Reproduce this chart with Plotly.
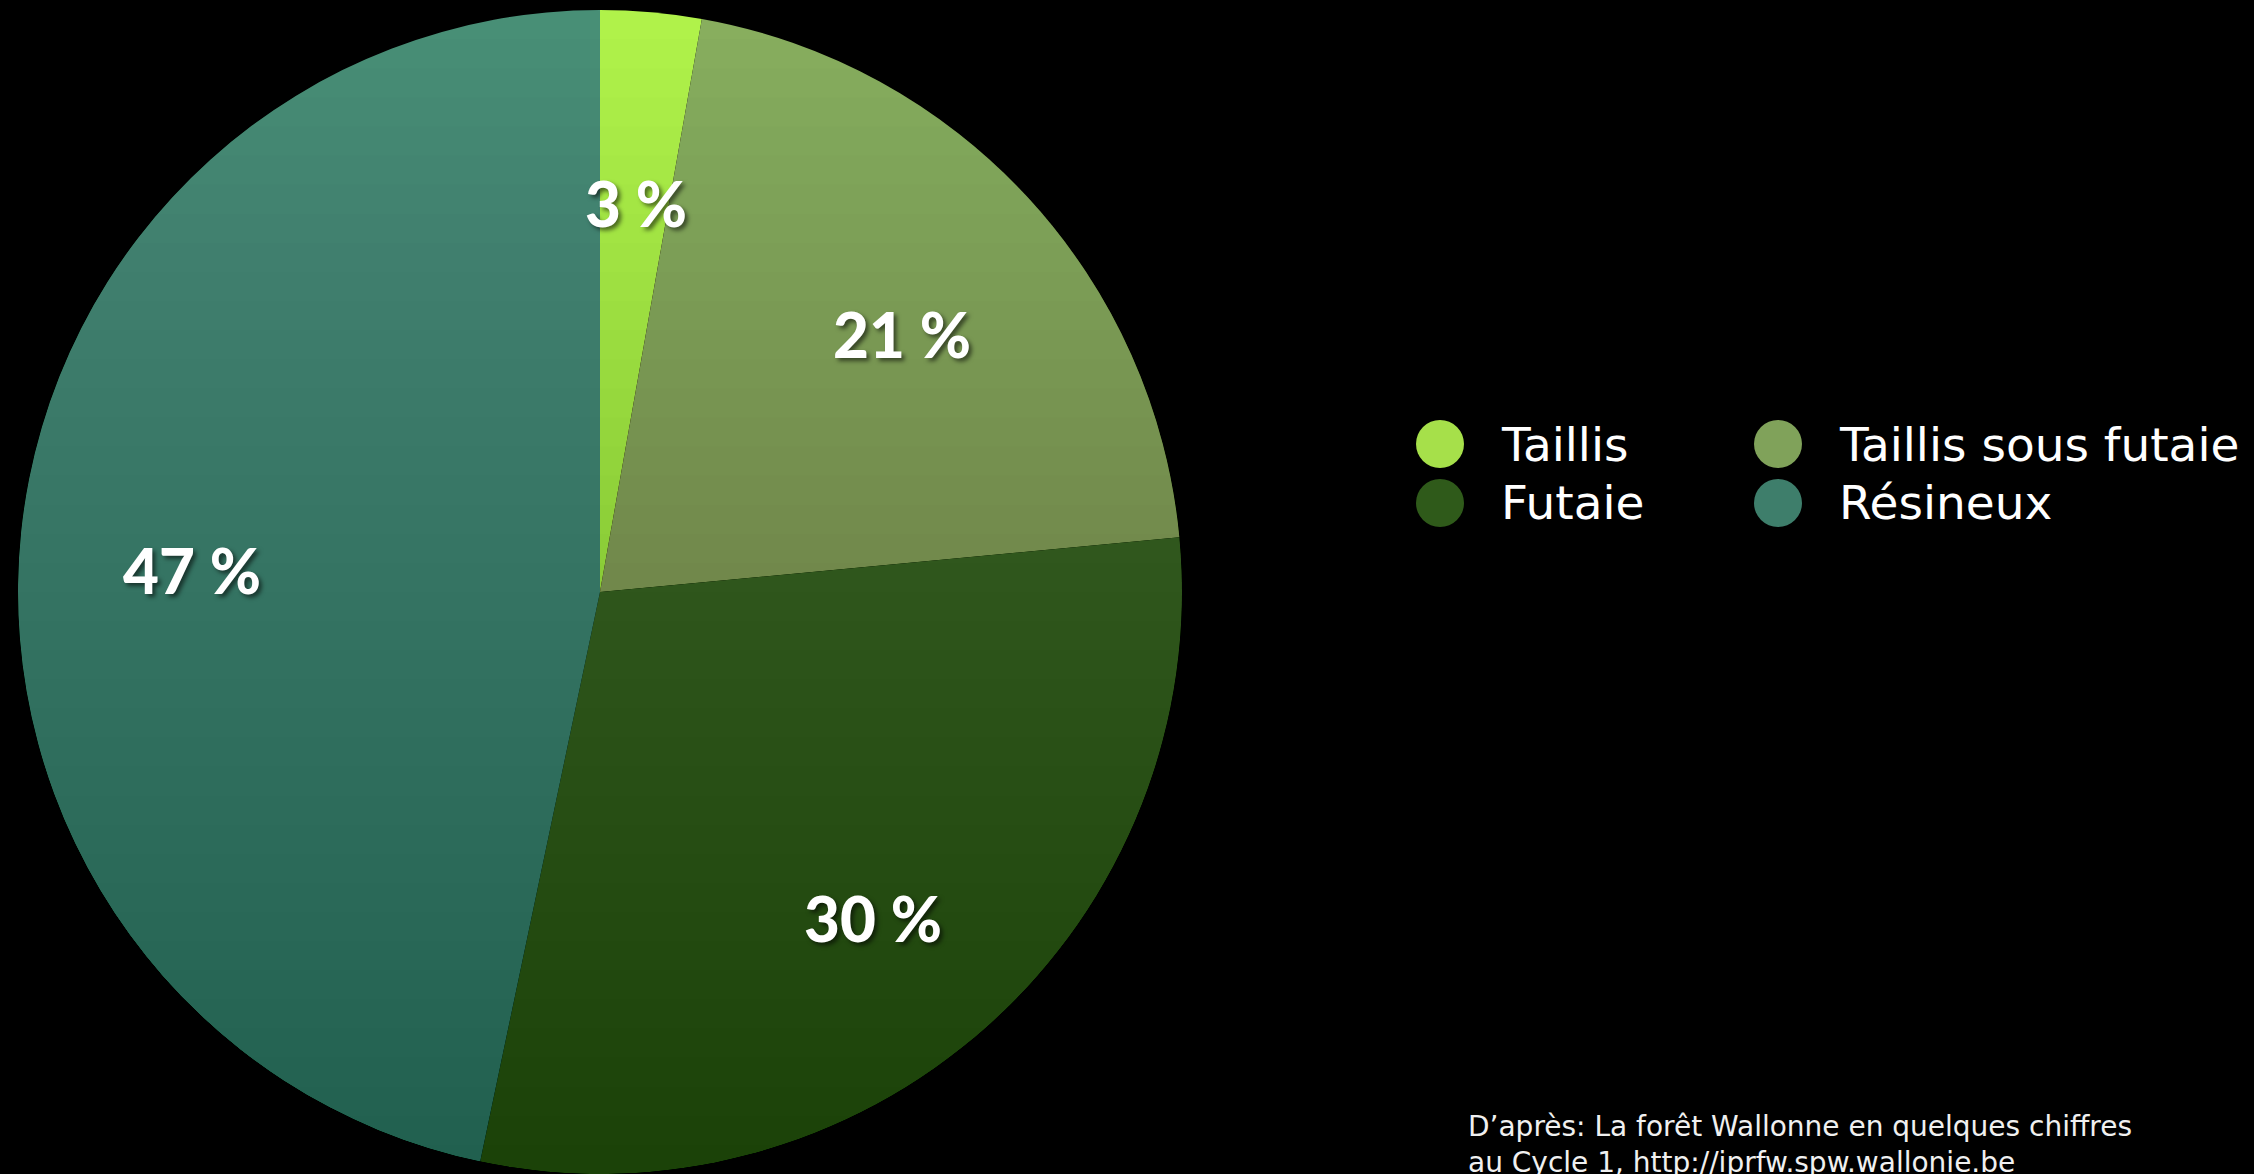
import numpy as np
import plotly.graph_objects as go

# ---------------------------
# Données
# ---------------------------
categories = ["Taillis", "Taillis sous futaie", "Futaie", "Résineux"]
parts = [2.8, 20.7, 29.8, 46.7]
pct_labels = ["3 %", "21 %", "30 %", "47 %"]
slice_colors = ["#b0f24a", "#88ae5e", "#42692f", "#488f76"]
legend_colors = ["#a6e04a", "#80a25a", "#2f5a1a", "#3e7e6b"]
source = "D’après: La forêt Wallonne en quelques chiffres<br>au Cycle 1, http://iprfw.spw.wallonie.be"

W, H = 2254, 1174
cx, cy, R = 600, 592, 582  # centre et rayon du camembert (px)
label_cy = 612             # le centre "visuel" de l'original est un peu plus bas

fig = go.Figure()
fig.add_trace(go.Pie(
    labels=categories,
    values=parts,
    sort=False,
    direction="clockwise",
    rotation=0,
    marker=dict(colors=slice_colors, line=dict(width=0)),
    textinfo="none",
    hoverinfo="label+percent",
    showlegend=False,
    domain=dict(x=[(cx - R) / W, (cx + R) / W], y=[1 - (cy + R) / H, 1 - (cy - R) / H]),
))

# dégradé vertical (fond noir -> invisible hors du camembert)
shapes = []
n = 40
a = 1 - 0.72 ** (1 / n)
for i in range(1, n + 1):
    y_top = (cy - R) + 2 * R * i / n
    shapes.append(dict(type="rect", xref="paper", yref="paper",
                       x0=0, x1=(cx + R + 10) / W, y0=0, y1=1 - y_top / H,
                       fillcolor="black", opacity=a, line=dict(width=0), layer="above"))

# étiquettes de pourcentage
annotations = []
total = sum(parts)
cum = np.cumsum([0] + parts[:-1])
mid = (cum + np.array(parts) / 2) / total * 2 * np.pi
for lab, ang in zip(pct_labels, mid):
    px_ = cx + 0.705 * R * np.sin(ang)
    py_ = label_cy - 0.705 * R * np.cos(ang)
    annotations.append(dict(
        x=px_ / W, y=1 - py_ / H, xref="paper", yref="paper",
        text=lab, showarrow=False, xanchor="center", yanchor="middle",
        font=dict(family="Lato", size=62, color="white", weight=900,
                  shadow="3px 3px 4px rgba(0,0,0,0.55)"),
    ))

# légende manuelle (2 colonnes, pastilles rondes)
leg_x = [1440, 1778]
leg_y = [444, 503]
rad = 24
for k, (cat, col) in enumerate(zip(categories, legend_colors)):
    x = leg_x[k % 2]
    y = leg_y[k // 2]
    shapes.append(dict(type="circle", xref="paper", yref="paper",
                       x0=(x - rad) / W, x1=(x + rad) / W,
                       y0=1 - (y + rad) / H, y1=1 - (y - rad) / H,
                       fillcolor=col, line=dict(width=0)))
    annotations.append(dict(
        x=(x + 59) / W, y=1 - y / H, xref="paper", yref="paper",
        text=cat, showarrow=False, xanchor="left", yanchor="middle",
        font=dict(family="DejaVu Sans", size=47, color="white"),
    ))

# source
annotations.append(dict(
    x=1466 / W, y=1 - 1108 / H, xref="paper", yref="paper",
    text=source, showarrow=False, xanchor="left", yanchor="top", align="left",
    font=dict(family="DejaVu Sans", size=28, color="#f0f0f0"),
))

fig.update_layout(
    width=W, height=H,
    margin=dict(l=0, r=0, t=0, b=0),
    paper_bgcolor="black",
    plot_bgcolor="black",
    shapes=shapes,
    annotations=annotations,
)

fig.write_html("out.html", config={"displayModeBar": False},
               post_script="document.body.style.margin='0';document.body.style.overflow='hidden';")
